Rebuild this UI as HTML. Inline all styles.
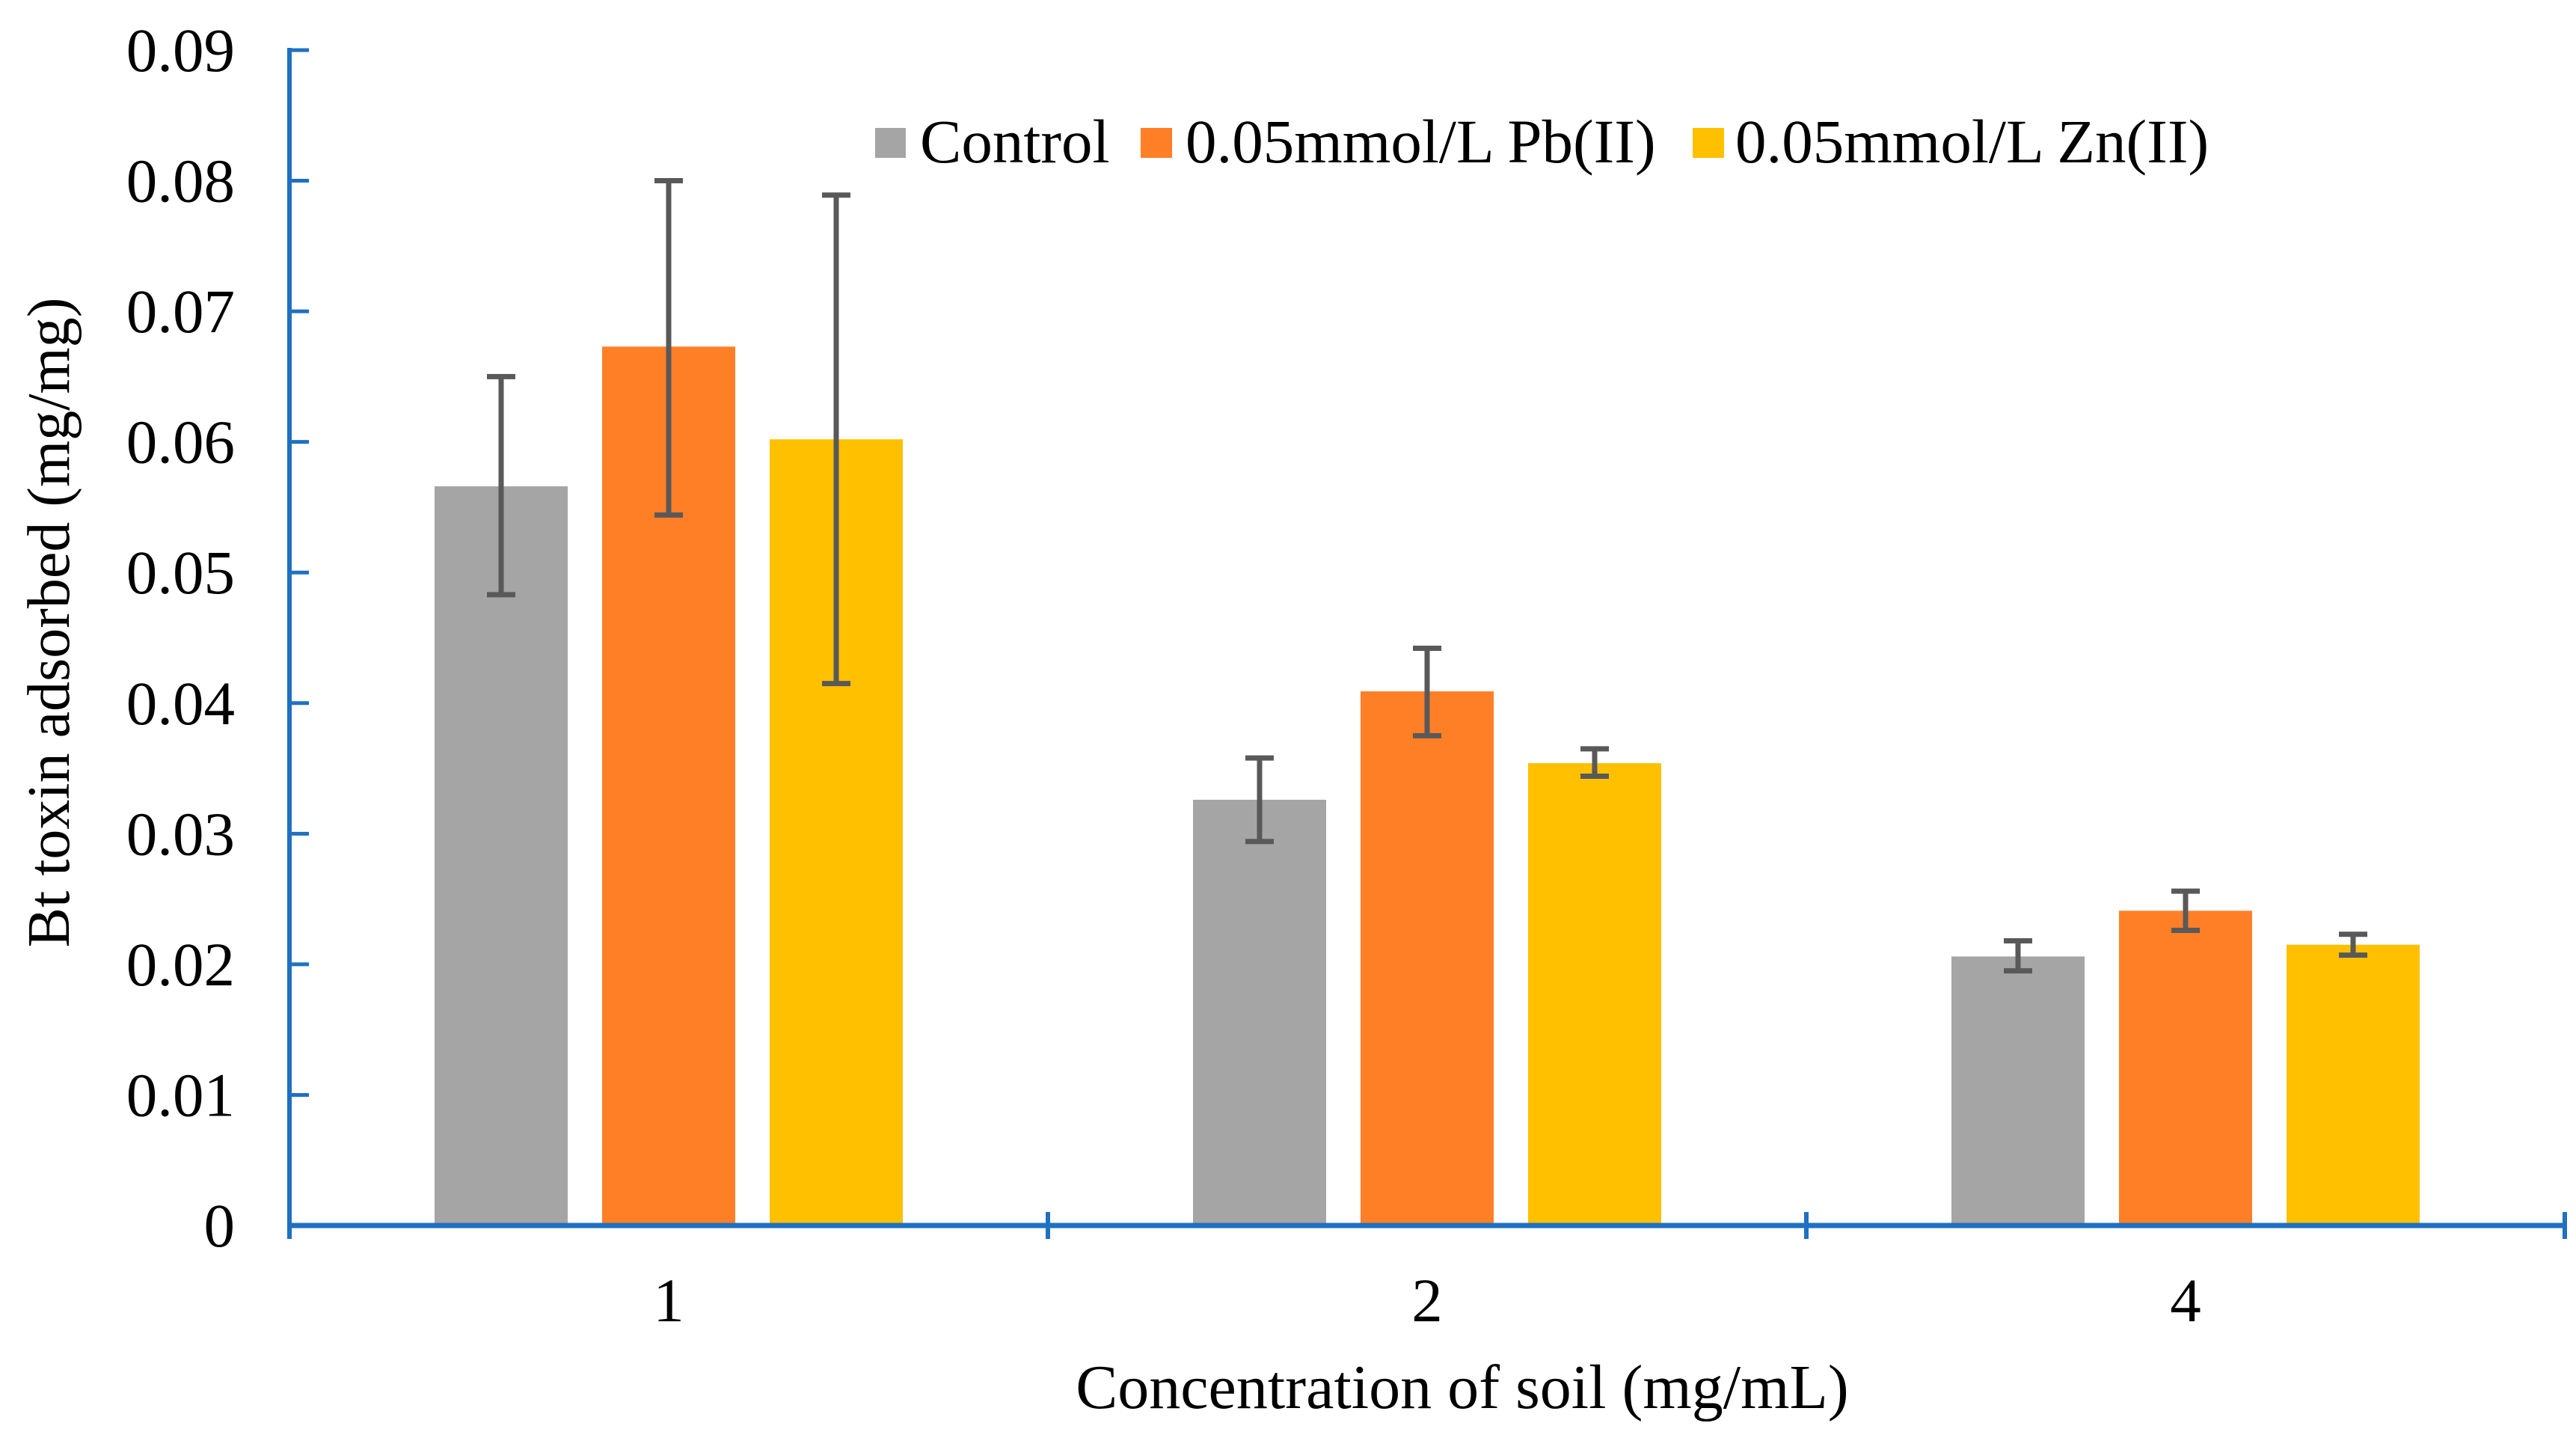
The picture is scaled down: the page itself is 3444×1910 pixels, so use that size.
<!DOCTYPE html>
<html><head><meta charset="utf-8"><style>
html,body{margin:0;padding:0;background:#fff;}
svg{display:block;}
text{font-family:"Liberation Serif","DejaVu Serif",serif;}
</style></head><body>
<svg id="chart" width="3444" height="1910" viewBox="0 0 3444 1910" xmlns="http://www.w3.org/2000/svg" font-family="Liberation Serif, serif">
<g id="bars"></g>
<g id="errs"></g>
<g id="axes"></g>
<text transform="translate(92,832) rotate(-90)" text-anchor="middle" font-size="80" font-family="Liberation Serif, serif" fill="#000">Bt toxin adsorbed (mg/mg)</text>
<text x="1955" y="1882" text-anchor="middle" font-size="84" font-family="Liberation Serif, serif" fill="#000">Concentration of soil (mg/mL)</text>
<g font-family="Liberation Serif, serif">
  <rect x="1170" y="171" width="41" height="40" fill="#a5a5a5"/>
  <text x="1230" y="217" font-size="83">Control</text>
  <rect x="1525" y="171" width="42" height="40" fill="#ff7f27"/>
  <text x="1585" y="217" font-size="83">0.05mmol/L Pb(II)</text>
  <rect x="2263" y="171" width="42" height="40" fill="#ffc000"/>
  <text x="2320" y="217" font-size="83">0.05mmol/L Zn(II)</text>
</g>
</svg>
<script>
const categories = ["1","2","4"];
const seriesNames = ["Control","0.05mmol/L Pb(II)","0.05mmol/L Zn(II)"];
const controlVals = [0.0566,0.0326,0.0206];
const pbVals = [0.0673,0.0409,0.0241];
const znVals = [0.0602,0.0354,0.0215];
const controlErrHi = [0.0650,0.0358,0.0218];
const controlErrLo = [0.0483,0.0294,0.0195];
const pbErrHi = [0.0800,0.0442,0.0256];
const pbErrLo = [0.0544,0.0375,0.0226];
const znErrHi = [0.0789,0.0365,0.0223];
const znErrLo = [0.0415,0.0344,0.0207];
const yTicks = [0,0.01,0.02,0.03,0.04,0.05,0.06,0.07,0.08,0.09];
const yTickLabels = ["0","0.01","0.02","0.03","0.04","0.05","0.06","0.07","0.08","0.09"];

const NS="http://www.w3.org/2000/svg";
const X0=387,X1=3429,Y0=1638,Y1=67,YMAX=0.09;
const colors=["#a5a5a5","#ff7f27","#ffc000"];
const catW=(X1-X0)/categories.length;
const barW=178,gap=46;
function y(v){return Y0-(v/YMAX)*(Y0-Y1);}
function xc(i){return X0+catW*(i+0.5);}
function mk(tag,attrs,parent){const e=document.createElementNS(NS,tag);for(const k in attrs)e.setAttribute(k,attrs[k]);parent.appendChild(e);return e;}
const bars=document.getElementById('bars'),errs=document.getElementById('errs'),axes=document.getElementById('axes');
const vals=[controlVals,pbVals,znVals],his=[controlErrHi,pbErrHi,znErrHi],los=[controlErrLo,pbErrLo,znErrLo];
const keys=["control","pb","zn"];
categories.forEach((c,i)=>{
  vals.forEach((arr,s)=>{
    const cx=xc(i)+(s-1)*(barW+gap);
    const r=mk('rect',{x:cx-barW/2,y:y(arr[i]),width:barW,height:Y0-y(arr[i]),fill:colors[s]},bars);
    
    
    const g=mk('g',{stroke:"#595959","stroke-width":7},errs);
    
    
    mk('line',{x1:cx,x2:cx,y1:y(his[s][i]),y2:y(los[s][i])},g);
    mk('line',{x1:cx-19,x2:cx+19,y1:y(his[s][i]),y2:y(his[s][i])},g);
    mk('line',{x1:cx-19,x2:cx+19,y1:y(los[s][i]),y2:y(los[s][i])},g);
  });
  const t=mk('text',{x:xc(i),y:1766,"text-anchor":"middle","font-size":83,"font-family":"Liberation Serif, serif"},axes);
  t.textContent=c;
  
  
});
const ax="#1f70c1";
const ya=mk('line',{x1:X0,x2:X0,y1:Y1-3,y2:Y0+3,stroke:ax,"stroke-width":6},axes);


yTicks.forEach((v,k)=>{
  mk('line',{x1:X0,x2:X0+26,y1:y(v),y2:y(v),stroke:ax,"stroke-width":5},axes);
  const t=mk('text',{x:314,y:y(v)+28,"text-anchor":"end","font-size":83,"font-family":"Liberation Serif, serif"},axes);
  t.textContent=yTickLabels[k];
  
  
});
const xa=mk('line',{x1:X0,x2:X1+3,y1:Y0,y2:Y0,stroke:ax,"stroke-width":7},axes);


for(let i=0;i<=categories.length;i++){
  mk('line',{x1:X0+catW*i,x2:X0+catW*i,y1:Y0-18,y2:Y0+18,stroke:ax,"stroke-width":6},axes);
}
</script>
</body></html>
